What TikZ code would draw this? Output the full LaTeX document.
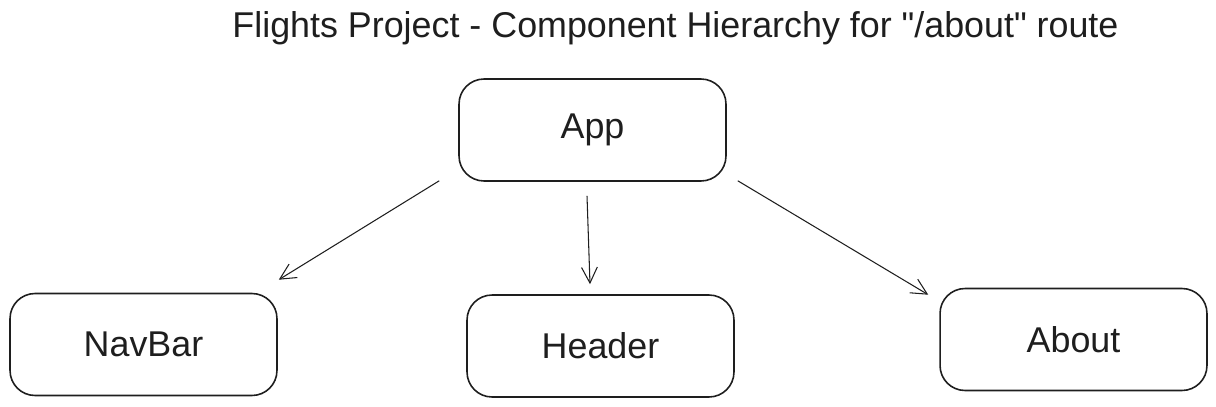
\documentclass[tikz,border=0pt]{standalone}
\usepackage{fontspec}
\setmainfont{Liberation Sans}
\newfontfamily\plainsans{Liberation Sans}
\usepackage{xcolor}
\usepackage{tikz}
\usetikzlibrary{arrows.meta,positioning}
\definecolor{ink}{HTML}{1E1E1E}

\begin{document}
\begin{tikzpicture}[x=0.02cm,y=-0.02cm,font=\plainsans\fontsize{20.4}{24}\selectfont,
    comp/.style={draw=ink,line width=0.9pt,rounded corners=0.5cm,
      minimum width=5.34cm,minimum height=2.04cm,text=ink},
    link/.style={draw=ink,line width=0.6pt,-{Straight Barb[length=9pt,width=9pt]}}]
  \useasboundingbox (0,0) rectangle (1216,406);
  \node[text=ink,anchor=base] (title) at (675.5,37) {Flights Project - Component Hierarchy for "/about" route};
  \node[comp] (app) at (592.5,130) {App};
  \node[comp] (nav) at (143.5,344.5) {NavBar};
  \node[comp] (header) at (600.5,346) {Header};
  \node[comp] (about) at (1073.5,339.5) {About};
  \draw[link] ([shift={(-19,-1)}]app.south west) -- ([shift={(1,-13)}]nav.north east);
  \draw[link] ([shift={(-5.5,14)}]app.south) -- ([shift={(-10.5,-10)}]header.north);
  \draw[link] ([shift={(11,-1)}]app.south east) -- ([shift={(-11,7)}]about.north west);
\end{tikzpicture}
\end{document}
